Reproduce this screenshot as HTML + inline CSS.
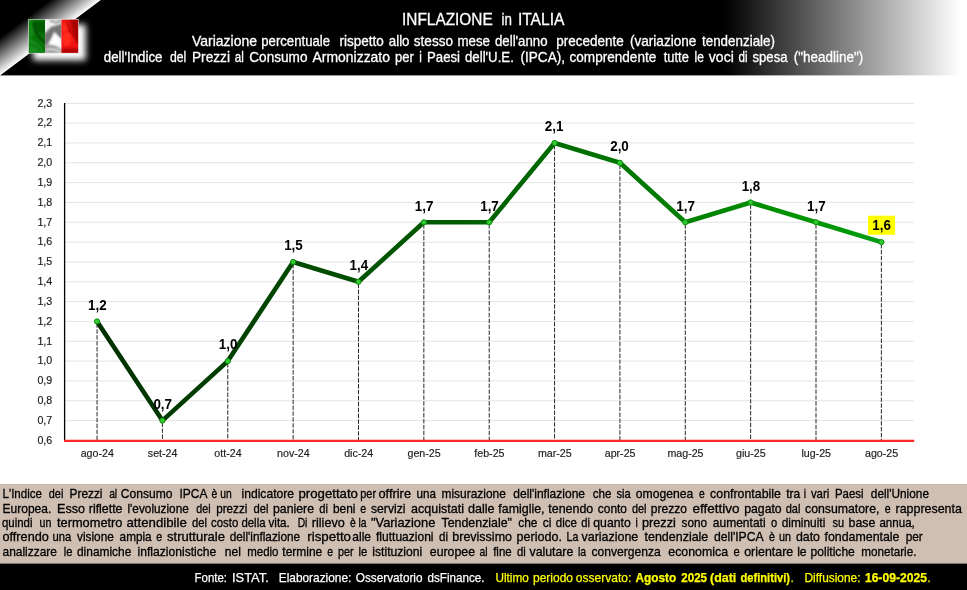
<!DOCTYPE html>
<html><head><meta charset="utf-8"><title>INFLAZIONE in ITALIA</title>
<style>html,body{margin:0;padding:0;background:#fff;}body{width:967px;height:590px;overflow:hidden;}svg{display:block;will-change:transform;}text{font-family:"Liberation Sans",sans-serif;}</style>
</head><body>
<svg width="967" height="590" viewBox="0 0 967 590">
<defs>
<linearGradient id="hg" gradientUnits="userSpaceOnUse" x1="0" y1="0" x2="967" y2="0"><stop offset="0" stop-color="#000"/><stop offset="0.75" stop-color="#000"/><stop offset="0.993" stop-color="#fff"/><stop offset="1" stop-color="#fff"/></linearGradient>
<linearGradient id="dg" gradientUnits="userSpaceOnUse" x1="50.4" y1="37.7" x2="32.13" y2="13.28"><stop offset="0" stop-color="#fff"/><stop offset="1" stop-color="#000"/></linearGradient>
<linearGradient id="lg" gradientUnits="userSpaceOnUse" x1="97" y1="0" x2="882" y2="0"><stop offset="0" stop-color="#003000"/><stop offset="0.54" stop-color="#006400"/><stop offset="0.9" stop-color="#009400"/><stop offset="1" stop-color="#009c10"/></linearGradient>
<filter id="glow" x="-50%" y="-50%" width="200%" height="200%"><feGaussianBlur stdDeviation="3"/></filter>
<filter id="b05" x="-30%" y="-60%" width="160%" height="220%"><feGaussianBlur stdDeviation="0.8"/></filter>
<filter id="b1" x="-30%" y="-30%" width="160%" height="160%"><feGaussianBlur stdDeviation="0.9"/></filter>
<linearGradient id="fgG" x1="0" y1="0" x2="1" y2="1"><stop offset="0" stop-color="#1a8a1a"/><stop offset="0.45" stop-color="#0a6a12"/><stop offset="0.7" stop-color="#138a1c"/><stop offset="1" stop-color="#0a6f10"/></linearGradient>
<linearGradient id="fgW" x1="0" y1="0" x2="1" y2="1"><stop offset="0" stop-color="#f4f4f4"/><stop offset="0.35" stop-color="#b9b9b9"/><stop offset="0.55" stop-color="#f2f2f2"/><stop offset="0.8" stop-color="#a8a8a8"/><stop offset="1" stop-color="#e8e8e8"/></linearGradient>
<linearGradient id="fgR" x1="0" y1="0" x2="1" y2="1"><stop offset="0" stop-color="#e01010"/><stop offset="0.4" stop-color="#ff2a20"/><stop offset="0.7" stop-color="#d40c0c"/><stop offset="1" stop-color="#f01a1a"/></linearGradient>
</defs>
<rect x="0" y="0" width="967" height="75.4" fill="url(#hg)"/>
<polygon points="0,0 100.8,0 0,75.6" fill="url(#dg)"/>
<rect x="33" y="24.5" width="52.8" height="35.8" fill="#fff" filter="url(#glow)"/>
<rect x="28.2" y="19.1" width="50.5" height="34.4" fill="#d8d8d8"/>
<clipPath id="cG"><rect x="28.9" y="19.8" width="16.1" height="33"/></clipPath>
<clipPath id="cW"><rect x="45" y="19.8" width="16.5" height="33"/></clipPath>
<clipPath id="cR"><rect x="61.5" y="19.8" width="16.6" height="33"/></clipPath>
<g clip-path="url(#cG)"><rect x="28" y="19" width="18" height="35" fill="#097509"/>
<g filter="url(#b1)">
<path d="M29,19 L33,19 L33.5,36 L29,37 Z" fill="#128c16"/>
<path d="M33.1,21.5 L45.5,21.5 L45.5,34 L38.6,32.3 Z" fill="#045a04"/>
<path d="M29,36.9 L37.7,44.2 L45.5,53 L29,53 Z" fill="#178f1d"/>
<path d="M32.7,22.5 Q35,31 37.7,35 T45.5,43" fill="none" stroke="#023f02" stroke-width="2"/>
<path d="M29,45 Q36,44 41,52.5" fill="none" stroke="#056005" stroke-width="1.2"/>
</g></g>
<g clip-path="url(#cW)"><rect x="44" y="19" width="18" height="35" fill="#f3f3f3"/>
<g filter="url(#b1)">
<path d="M62.5,23.5 L62.5,39.5 L54.4,32.8 L47.4,45 L44,45 L44,34 L51,27 Z" fill="#757575"/>
<path d="M44,44.2 L54.2,45.1 L62.5,49.7 L62.5,54 L44,54 Z" fill="#9c9c9c"/>
<path d="M50.5,44.6 L54.6,31.6 L57.9,37.8 L60.8,44.8 Z" fill="#ffffff"/>
<path d="M46,50 Q53,47.5 61,52" fill="none" stroke="#f4f4f4" stroke-width="1.3"/>
</g>
<g filter="url(#b05)"><path d="M50,21.5 Q52.5,20 54.5,22 T58,21.4 T61.3,23" fill="none" stroke="#858585" stroke-width="1.7"/></g>
</g>
<g clip-path="url(#cR)"><rect x="61" y="19" width="18" height="35" fill="#f01414"/>
<g filter="url(#b1)">
<path d="M69.7,19 L79,19 L79,45 L75.2,36.9 L71.6,26.8 Z" fill="#a60404"/>
<path d="M66.5,21.5 Q68,28 71.6,32.3 T78.6,44.2" fill="none" stroke="#a80606" stroke-width="1.8"/>
<ellipse cx="66.5" cy="39" rx="4.8" ry="7" fill="#ff2a1c"/>
<path d="M61.5,24 L66,22 L68,30 L62,33 Z" fill="#ff2a1c"/>
<path d="M61,49.6 Q70,47.8 79,48.6 L79,54 L61,54 Z" fill="#b20606"/>
</g></g>
<g fill="#fff" stroke="#fff" stroke-width="0.3">
<g font-size="16.4">
<text x="402.10" y="24.7" textLength="90.59" lengthAdjust="spacingAndGlyphs">INFLAZIONE</text>
<text x="501.50" y="24.7" textLength="10.40" lengthAdjust="spacingAndGlyphs">in</text>
<text x="517.90" y="24.7" textLength="46.51" lengthAdjust="spacingAndGlyphs">ITALIA</text>
</g>
<g font-size="14.1">
<text x="192.00" y="45.5" textLength="65.00" lengthAdjust="spacingAndGlyphs">Variazione</text>
<text x="261.30" y="45.5" textLength="68.70" lengthAdjust="spacingAndGlyphs">percentuale</text>
<text x="339.50" y="45.5" textLength="44.30" lengthAdjust="spacingAndGlyphs">rispetto</text>
<text x="388.80" y="45.5" textLength="20.70" lengthAdjust="spacingAndGlyphs">allo</text>
<text x="413.80" y="45.5" textLength="39.20" lengthAdjust="spacingAndGlyphs">stesso</text>
<text x="457.50" y="45.5" textLength="32.50" lengthAdjust="spacingAndGlyphs">mese</text>
<text x="495.00" y="45.5" textLength="52.50" lengthAdjust="spacingAndGlyphs">dell'anno</text>
<text x="556.30" y="45.5" textLength="67.50" lengthAdjust="spacingAndGlyphs">precedente</text>
<text x="630.00" y="45.5" textLength="66.30" lengthAdjust="spacingAndGlyphs">(variazione</text>
<text x="702.00" y="45.5" textLength="73.00" lengthAdjust="spacingAndGlyphs">tendenziale)</text>
<text x="103.80" y="62.3" textLength="58.70" lengthAdjust="spacingAndGlyphs">dell'Indice</text>
<text x="170.00" y="62.3" textLength="16.31" lengthAdjust="spacingAndGlyphs">del</text>
<text x="192.00" y="62.3" textLength="38.00" lengthAdjust="spacingAndGlyphs">Prezzi</text>
<text x="234.87" y="62.3" textLength="9.05" lengthAdjust="spacingAndGlyphs">al</text>
<text x="249.30" y="62.3" textLength="58.20" lengthAdjust="spacingAndGlyphs">Consumo</text>
<text x="312.50" y="62.3" textLength="77.50" lengthAdjust="spacingAndGlyphs">Armonizzato</text>
<text x="395.00" y="62.3" textLength="18.80" lengthAdjust="spacingAndGlyphs">per</text>
<text x="419.21" y="62.3" textLength="2.58" lengthAdjust="spacingAndGlyphs">i</text>
<text x="427.00" y="62.3" textLength="33.01" lengthAdjust="spacingAndGlyphs">Paesi</text>
<text x="465.00" y="62.3" textLength="48.81" lengthAdjust="spacingAndGlyphs">dell'U.E.</text>
<text x="520.50" y="62.3" textLength="44.50" lengthAdjust="spacingAndGlyphs">(IPCA),</text>
<text x="569.50" y="62.3" textLength="86.80" lengthAdjust="spacingAndGlyphs">comprendente</text>
<text x="663.80" y="62.3" textLength="25.00" lengthAdjust="spacingAndGlyphs">tutte</text>
<text x="694.50" y="62.3" textLength="9.30" lengthAdjust="spacingAndGlyphs">le</text>
<text x="708.80" y="62.3" textLength="25.00" lengthAdjust="spacingAndGlyphs">voci</text>
<text x="738.62" y="62.3" textLength="9.05" lengthAdjust="spacingAndGlyphs">di</text>
<text x="752.50" y="62.3" textLength="34.99" lengthAdjust="spacingAndGlyphs">spesa</text>
<text x="793.80" y="62.3" textLength="69.50" lengthAdjust="spacingAndGlyphs">(&quot;headline&quot;)</text>
</g>
</g>
<g stroke="#e4e4e4" stroke-width="1">
<line x1="65" y1="103.30" x2="914" y2="103.30"/>
<line x1="65" y1="123.13" x2="914" y2="123.13"/>
<line x1="65" y1="142.96" x2="914" y2="142.96"/>
<line x1="65" y1="162.79" x2="914" y2="162.79"/>
<line x1="65" y1="182.62" x2="914" y2="182.62"/>
<line x1="65" y1="202.45" x2="914" y2="202.45"/>
<line x1="65" y1="222.28" x2="914" y2="222.28"/>
<line x1="65" y1="242.11" x2="914" y2="242.11"/>
<line x1="65" y1="261.94" x2="914" y2="261.94"/>
<line x1="65" y1="281.77" x2="914" y2="281.77"/>
<line x1="65" y1="301.60" x2="914" y2="301.60"/>
<line x1="65" y1="321.43" x2="914" y2="321.43"/>
<line x1="65" y1="341.26" x2="914" y2="341.26"/>
<line x1="65" y1="361.09" x2="914" y2="361.09"/>
<line x1="65" y1="380.92" x2="914" y2="380.92"/>
<line x1="65" y1="400.75" x2="914" y2="400.75"/>
<line x1="65" y1="420.58" x2="914" y2="420.58"/>
</g>
<g fill="#1e1e1e" font-size="10.67" stroke="#1e1e1e" stroke-width="0.18">
<text x="37.4" y="106.60">2,3</text>
<text x="37.4" y="126.43">2,2</text>
<text x="37.4" y="146.26">2,1</text>
<text x="37.4" y="166.09">2,0</text>
<text x="37.4" y="185.92">1,9</text>
<text x="37.4" y="205.75">1,8</text>
<text x="37.4" y="225.58">1,7</text>
<text x="37.4" y="245.41">1,6</text>
<text x="37.4" y="265.24">1,5</text>
<text x="37.4" y="285.07">1,4</text>
<text x="37.4" y="304.90">1,3</text>
<text x="37.4" y="324.73">1,2</text>
<text x="37.4" y="344.56">1,1</text>
<text x="37.4" y="364.39">1,0</text>
<text x="37.4" y="384.22">0,9</text>
<text x="37.4" y="404.05">0,8</text>
<text x="37.4" y="423.88">0,7</text>
<text x="37.4" y="443.71">0,6</text>
</g>
<g stroke="#262626" stroke-width="1" stroke-dasharray="4.4 1.5">
<line x1="97.05" y1="323.43" x2="97.05" y2="440.41"/>
<line x1="162.41" y1="422.58" x2="162.41" y2="440.41"/>
<line x1="227.77" y1="363.09" x2="227.77" y2="440.41"/>
<line x1="293.13" y1="263.94" x2="293.13" y2="440.41"/>
<line x1="358.49" y1="283.77" x2="358.49" y2="440.41"/>
<line x1="423.85" y1="224.28" x2="423.85" y2="440.41"/>
<line x1="489.21" y1="224.28" x2="489.21" y2="440.41"/>
<line x1="554.57" y1="144.96" x2="554.57" y2="440.41"/>
<line x1="619.93" y1="164.79" x2="619.93" y2="440.41"/>
<line x1="685.29" y1="224.28" x2="685.29" y2="440.41"/>
<line x1="750.65" y1="204.45" x2="750.65" y2="440.41"/>
<line x1="816.01" y1="224.28" x2="816.01" y2="440.41"/>
<line x1="881.37" y1="244.11" x2="881.37" y2="440.41"/>
</g>
<line x1="64.6" y1="103" x2="64.6" y2="441.41" stroke="#000" stroke-width="1.3"/>
<line x1="64" y1="440.85" x2="914.2" y2="440.85" stroke="#ff2626" stroke-width="2.1"/>
<polyline points="97.05,321.43 162.41,420.58 227.77,361.09 293.13,261.94 358.49,281.77 423.85,222.28 489.21,222.28 554.57,142.96 619.93,162.79 685.29,222.28 750.65,202.45 816.01,222.28 881.37,242.11" fill="none" stroke="url(#lg)" stroke-width="4.6" stroke-linejoin="round" stroke-linecap="round"/>
<g fill="#30cc30" stroke="#0f8c0f" stroke-width="1">
<circle cx="97.05" cy="321.43" r="2.6"/>
<circle cx="162.41" cy="420.58" r="2.6"/>
<circle cx="227.77" cy="361.09" r="2.6"/>
<circle cx="293.13" cy="261.94" r="2.6"/>
<circle cx="358.49" cy="281.77" r="2.6"/>
<circle cx="423.85" cy="222.28" r="2.6"/>
<circle cx="489.21" cy="222.28" r="2.6"/>
<circle cx="554.57" cy="142.96" r="2.6"/>
<circle cx="619.93" cy="162.79" r="2.6"/>
<circle cx="685.29" cy="222.28" r="2.6"/>
<circle cx="750.65" cy="202.45" r="2.6"/>
<circle cx="816.01" cy="222.28" r="2.6"/>
<circle cx="881.37" cy="242.11" r="2.6"/>
</g>
<rect x="868" y="215.7" width="27.1" height="19.1" fill="#ffff00"/>
<g fill="#000" font-size="14" font-weight="bold" text-anchor="middle">
<text x="97.35" y="309.73" textLength="18.6" lengthAdjust="spacingAndGlyphs">1,2</text>
<text x="162.71" y="408.88" textLength="18.6" lengthAdjust="spacingAndGlyphs">0,7</text>
<text x="228.07" y="349.39" textLength="18.6" lengthAdjust="spacingAndGlyphs">1,0</text>
<text x="293.43" y="250.24" textLength="18.6" lengthAdjust="spacingAndGlyphs">1,5</text>
<text x="358.79" y="270.07" textLength="18.6" lengthAdjust="spacingAndGlyphs">1,4</text>
<text x="424.15" y="210.58" textLength="18.6" lengthAdjust="spacingAndGlyphs">1,7</text>
<text x="489.51" y="210.58" textLength="18.6" lengthAdjust="spacingAndGlyphs">1,7</text>
<text x="554.17" y="131.26" textLength="18.6" lengthAdjust="spacingAndGlyphs">2,1</text>
<text x="619.53" y="151.09" textLength="18.6" lengthAdjust="spacingAndGlyphs">2,0</text>
<text x="685.59" y="210.58" textLength="18.6" lengthAdjust="spacingAndGlyphs">1,7</text>
<text x="750.95" y="190.75" textLength="18.6" lengthAdjust="spacingAndGlyphs">1,8</text>
<text x="816.31" y="210.58" textLength="18.6" lengthAdjust="spacingAndGlyphs">1,7</text>
<text x="881.67" y="230.41" textLength="18.6" lengthAdjust="spacingAndGlyphs">1,6</text>
</g>
<g fill="#1e1e1e" font-size="10.67" text-anchor="middle" stroke="#1e1e1e" stroke-width="0.18">
<text x="97.25" y="456.6">ago-24</text>
<text x="162.61" y="456.6">set-24</text>
<text x="227.97" y="456.6">ott-24</text>
<text x="293.33" y="456.6">nov-24</text>
<text x="358.69" y="456.6">dic-24</text>
<text x="424.05" y="456.6">gen-25</text>
<text x="489.41" y="456.6">feb-25</text>
<text x="554.77" y="456.6">mar-25</text>
<text x="620.13" y="456.6">apr-25</text>
<text x="685.49" y="456.6">mag-25</text>
<text x="750.85" y="456.6">giu-25</text>
<text x="816.21" y="456.6">lug-25</text>
<text x="881.57" y="456.6">ago-25</text>
</g>
<rect x="0" y="484" width="967" height="80" fill="#cfbeb2"/>
<rect x="0" y="484" width="967" height="1" fill="#c9b3a8"/>
<rect x="0" y="563.6" width="967" height="26.4" fill="#000"/>
<g fill="#000" font-size="12.7" stroke="#000" stroke-width="0.3">
<text x="2.50" y="498.2" textLength="39.49" lengthAdjust="spacingAndGlyphs">L'Indice</text>
<text x="48.80" y="498.2" textLength="14.51" lengthAdjust="spacingAndGlyphs">dei</text>
<text x="69.50" y="498.2" textLength="33.00" lengthAdjust="spacingAndGlyphs">Prezzi</text>
<text x="109.14" y="498.2" textLength="8.03" lengthAdjust="spacingAndGlyphs">al</text>
<text x="120.80" y="498.2" textLength="51.70" lengthAdjust="spacingAndGlyphs">Consumo</text>
<text x="179.50" y="498.2" textLength="28.00" lengthAdjust="spacingAndGlyphs">IPCA</text>
<text x="211.53" y="498.2" textLength="5.74" lengthAdjust="spacingAndGlyphs">è</text>
<text x="220.16" y="498.2" textLength="11.48" lengthAdjust="spacingAndGlyphs">un</text>
<text x="241.50" y="498.2" textLength="52.50" lengthAdjust="spacingAndGlyphs">indicatore</text>
<text x="298.53" y="498.2" textLength="59.45" lengthAdjust="spacingAndGlyphs">progettato</text>
<text x="360.30" y="498.2" textLength="15.70" lengthAdjust="spacingAndGlyphs">per</text>
<text x="378.50" y="498.2" textLength="32.50" lengthAdjust="spacingAndGlyphs">offrire</text>
<text x="416.50" y="498.2" textLength="19.49" lengthAdjust="spacingAndGlyphs">una</text>
<text x="441.50" y="498.2" textLength="64.30" lengthAdjust="spacingAndGlyphs">misurazione</text>
<text x="513.30" y="498.2" textLength="71.70" lengthAdjust="spacingAndGlyphs">dell'inflazione</text>
<text x="592.80" y="498.2" textLength="18.70" lengthAdjust="spacingAndGlyphs">che</text>
<text x="616.50" y="498.2" textLength="14.29" lengthAdjust="spacingAndGlyphs">sia</text>
<text x="635.80" y="498.2" textLength="57.49" lengthAdjust="spacingAndGlyphs">omogenea</text>
<text x="698.88" y="498.2" textLength="5.74" lengthAdjust="spacingAndGlyphs">e</text>
<text x="710.10" y="498.2" textLength="70.80" lengthAdjust="spacingAndGlyphs">confrontabile</text>
<text x="786.29" y="498.2" textLength="14.00" lengthAdjust="spacingAndGlyphs">tra</text>
<text x="803.70" y="498.2" textLength="2.29" lengthAdjust="spacingAndGlyphs">i</text>
<text x="810.92" y="498.2" textLength="18.37" lengthAdjust="spacingAndGlyphs">vari</text>
<text x="834.99" y="498.2" textLength="28.52" lengthAdjust="spacingAndGlyphs">Paesi</text>
<text x="870.80" y="498.2" textLength="58.19" lengthAdjust="spacingAndGlyphs">dell'Unione</text>
<text x="2.50" y="512.5" textLength="48.80" lengthAdjust="spacingAndGlyphs">Europea.</text>
<text x="57.00" y="512.5" textLength="28.00" lengthAdjust="spacingAndGlyphs">Esso</text>
<text x="88.80" y="512.5" textLength="33.70" lengthAdjust="spacingAndGlyphs">riflette</text>
<text x="127.50" y="512.5" textLength="61.30" lengthAdjust="spacingAndGlyphs">l'evoluzione</text>
<text x="196.30" y="512.5" textLength="14.21" lengthAdjust="spacingAndGlyphs">dei</text>
<text x="216.23" y="512.5" textLength="31.13" lengthAdjust="spacingAndGlyphs">prezzi</text>
<text x="253.50" y="512.5" textLength="15.01" lengthAdjust="spacingAndGlyphs">del</text>
<text x="273.00" y="512.5" textLength="41.00" lengthAdjust="spacingAndGlyphs">paniere</text>
<text x="319.30" y="512.5" textLength="8.70" lengthAdjust="spacingAndGlyphs">di</text>
<text x="333.00" y="512.5" textLength="22.50" lengthAdjust="spacingAndGlyphs">beni</text>
<text x="360.21" y="512.5" textLength="5.88" lengthAdjust="spacingAndGlyphs">e</text>
<text x="371.00" y="512.5" textLength="34.49" lengthAdjust="spacingAndGlyphs">servizi</text>
<text x="411.00" y="512.5" textLength="53.00" lengthAdjust="spacingAndGlyphs">acquistati</text>
<text x="468.00" y="512.5" textLength="26.50" lengthAdjust="spacingAndGlyphs">dalle</text>
<text x="498.30" y="512.5" textLength="46.20" lengthAdjust="spacingAndGlyphs">famiglie,</text>
<text x="548.30" y="512.5" textLength="45.00" lengthAdjust="spacingAndGlyphs">tenendo</text>
<text x="597.80" y="512.5" textLength="29.20" lengthAdjust="spacingAndGlyphs">conto</text>
<text x="632.00" y="512.5" textLength="14.51" lengthAdjust="spacingAndGlyphs">del</text>
<text x="650.80" y="512.5" textLength="36.21" lengthAdjust="spacingAndGlyphs">prezzo</text>
<text x="692.51" y="512.5" textLength="47.08" lengthAdjust="spacingAndGlyphs">effettivo</text>
<text x="744.20" y="512.5" textLength="37.50" lengthAdjust="spacingAndGlyphs">pagato</text>
<text x="785.70" y="512.5" textLength="14.71" lengthAdjust="spacingAndGlyphs">dal</text>
<text x="805.00" y="512.5" textLength="74.40" lengthAdjust="spacingAndGlyphs">consumatore,</text>
<text x="884.80" y="512.5" textLength="5.90" lengthAdjust="spacingAndGlyphs">e</text>
<text x="895.50" y="512.5" textLength="66.39" lengthAdjust="spacingAndGlyphs">rappresenta</text>
<text x="2.01" y="526.8" textLength="30.48" lengthAdjust="spacingAndGlyphs">quindi</text>
<text x="39.50" y="526.8" textLength="11.80" lengthAdjust="spacingAndGlyphs">un</text>
<text x="57.00" y="526.8" textLength="65.50" lengthAdjust="spacingAndGlyphs">termometro</text>
<text x="126.51" y="526.8" textLength="60.29" lengthAdjust="spacingAndGlyphs">attendibile</text>
<text x="192.00" y="526.8" textLength="15.01" lengthAdjust="spacingAndGlyphs">del</text>
<text x="211.00" y="526.8" textLength="27.30" lengthAdjust="spacingAndGlyphs">costo</text>
<text x="241.43" y="526.8" textLength="24.13" lengthAdjust="spacingAndGlyphs">della</text>
<text x="268.50" y="526.8" textLength="21.30" lengthAdjust="spacingAndGlyphs">vita.</text>
<text x="297.67" y="526.8" textLength="9.76" lengthAdjust="spacingAndGlyphs">Di</text>
<text x="311.80" y="526.8" textLength="33.00" lengthAdjust="spacingAndGlyphs">rilievo</text>
<text x="350.03" y="526.8" textLength="5.75" lengthAdjust="spacingAndGlyphs">è</text>
<text x="358.47" y="526.8" textLength="8.05" lengthAdjust="spacingAndGlyphs">la</text>
<text x="371.00" y="526.8" textLength="64.30" lengthAdjust="spacingAndGlyphs">&quot;Variazione</text>
<text x="441.50" y="526.8" textLength="70.51" lengthAdjust="spacingAndGlyphs">Tendenziale&quot;</text>
<text x="518.30" y="526.8" textLength="19.20" lengthAdjust="spacingAndGlyphs">che</text>
<text x="542.66" y="526.8" textLength="8.68" lengthAdjust="spacingAndGlyphs">ci</text>
<text x="555.80" y="526.8" textLength="21.21" lengthAdjust="spacingAndGlyphs">dice</text>
<text x="581.30" y="526.8" textLength="8.70" lengthAdjust="spacingAndGlyphs">di</text>
<text x="593.30" y="526.8" textLength="37.50" lengthAdjust="spacingAndGlyphs">quanto</text>
<text x="635.50" y="526.8" textLength="2.30" lengthAdjust="spacingAndGlyphs">i</text>
<text x="642.00" y="526.8" textLength="33.79" lengthAdjust="spacingAndGlyphs">prezzi</text>
<text x="681.50" y="526.8" textLength="25.51" lengthAdjust="spacingAndGlyphs">sono</text>
<text x="712.80" y="526.8" textLength="52.80" lengthAdjust="spacingAndGlyphs">aumentati</text>
<text x="770.90" y="526.8" textLength="6.20" lengthAdjust="spacingAndGlyphs">o</text>
<text x="781.70" y="526.8" textLength="43.60" lengthAdjust="spacingAndGlyphs">diminuiti</text>
<text x="832.50" y="526.8" textLength="11.60" lengthAdjust="spacingAndGlyphs">su</text>
<text x="848.60" y="526.8" textLength="26.81" lengthAdjust="spacingAndGlyphs">base</text>
<text x="879.40" y="526.8" textLength="35.40" lengthAdjust="spacingAndGlyphs">annua,</text>
<text x="2.50" y="541.2" textLength="46.30" lengthAdjust="spacingAndGlyphs">offrendo</text>
<text x="52.50" y="541.2" textLength="18.79" lengthAdjust="spacingAndGlyphs">una</text>
<text x="77.00" y="541.2" textLength="36.80" lengthAdjust="spacingAndGlyphs">visione</text>
<text x="119.62" y="541.2" textLength="32.04" lengthAdjust="spacingAndGlyphs">ampia</text>
<text x="156.19" y="541.2" textLength="5.92" lengthAdjust="spacingAndGlyphs">e</text>
<text x="167.00" y="541.2" textLength="58.00" lengthAdjust="spacingAndGlyphs">strutturale</text>
<text x="229.76" y="541.2" textLength="70.27" lengthAdjust="spacingAndGlyphs">dell'inflazione</text>
<text x="307.30" y="541.2" textLength="43.70" lengthAdjust="spacingAndGlyphs">rispetto</text>
<text x="352.30" y="541.2" textLength="18.70" lengthAdjust="spacingAndGlyphs">alle</text>
<text x="376.00" y="541.2" textLength="57.50" lengthAdjust="spacingAndGlyphs">fluttuazioni</text>
<text x="439.00" y="541.2" textLength="9.00" lengthAdjust="spacingAndGlyphs">di</text>
<text x="452.30" y="541.2" textLength="59.70" lengthAdjust="spacingAndGlyphs">brevissimo</text>
<text x="516.50" y="541.2" textLength="45.50" lengthAdjust="spacingAndGlyphs">periodo.</text>
<text x="566.47" y="541.2" textLength="11.85" lengthAdjust="spacingAndGlyphs">La</text>
<text x="581.50" y="541.2" textLength="56.80" lengthAdjust="spacingAndGlyphs">variazione</text>
<text x="644.50" y="541.2" textLength="63.80" lengthAdjust="spacingAndGlyphs">tendenziale</text>
<text x="713.90" y="541.2" textLength="49.79" lengthAdjust="spacingAndGlyphs">dell'IPCA</text>
<text x="769.09" y="541.2" textLength="5.92" lengthAdjust="spacingAndGlyphs">è</text>
<text x="779.00" y="541.2" textLength="12.00" lengthAdjust="spacingAndGlyphs">un</text>
<text x="795.90" y="541.2" textLength="24.10" lengthAdjust="spacingAndGlyphs">dato</text>
<text x="824.50" y="541.2" textLength="75.00" lengthAdjust="spacingAndGlyphs">fondamentale</text>
<text x="905.70" y="541.2" textLength="17.10" lengthAdjust="spacingAndGlyphs">per</text>
<text x="2.50" y="555.6" textLength="54.50" lengthAdjust="spacingAndGlyphs">analizzare</text>
<text x="63.80" y="555.6" textLength="8.70" lengthAdjust="spacingAndGlyphs">le</text>
<text x="77.00" y="555.6" textLength="54.30" lengthAdjust="spacingAndGlyphs">dinamiche</text>
<text x="137.50" y="555.6" textLength="78.81" lengthAdjust="spacingAndGlyphs">inflazionistiche</text>
<text x="224.85" y="555.6" textLength="16.11" lengthAdjust="spacingAndGlyphs">nel</text>
<text x="247.28" y="555.6" textLength="31.24" lengthAdjust="spacingAndGlyphs">medio</text>
<text x="282.30" y="555.6" textLength="39.99" lengthAdjust="spacingAndGlyphs">termine</text>
<text x="327.26" y="555.6" textLength="5.77" lengthAdjust="spacingAndGlyphs">e</text>
<text x="338.00" y="555.6" textLength="15.50" lengthAdjust="spacingAndGlyphs">per</text>
<text x="358.50" y="555.6" textLength="8.80" lengthAdjust="spacingAndGlyphs">le</text>
<text x="372.30" y="555.6" textLength="50.00" lengthAdjust="spacingAndGlyphs">istituzioni</text>
<text x="429.80" y="555.6" textLength="45.20" lengthAdjust="spacingAndGlyphs">europee</text>
<text x="479.46" y="555.6" textLength="8.08" lengthAdjust="spacingAndGlyphs">al</text>
<text x="493.16" y="555.6" textLength="18.49" lengthAdjust="spacingAndGlyphs">fine</text>
<text x="517.00" y="555.6" textLength="8.80" lengthAdjust="spacingAndGlyphs">di</text>
<text x="529.50" y="555.6" textLength="43.80" lengthAdjust="spacingAndGlyphs">valutare</text>
<text x="578.01" y="555.6" textLength="8.08" lengthAdjust="spacingAndGlyphs">la</text>
<text x="591.50" y="555.6" textLength="69.29" lengthAdjust="spacingAndGlyphs">convergenza</text>
<text x="668.30" y="555.6" textLength="59.79" lengthAdjust="spacingAndGlyphs">economica</text>
<text x="733.40" y="555.6" textLength="6.20" lengthAdjust="spacingAndGlyphs">e</text>
<text x="744.20" y="555.6" textLength="49.00" lengthAdjust="spacingAndGlyphs">orientare</text>
<text x="797.20" y="555.6" textLength="9.40" lengthAdjust="spacingAndGlyphs">le</text>
<text x="810.60" y="555.6" textLength="44.20" lengthAdjust="spacingAndGlyphs">politiche</text>
<text x="861.20" y="555.6" textLength="55.20" lengthAdjust="spacingAndGlyphs">monetarie.</text>
</g>
<g font-size="12.7" fill="#fff" stroke="#fff" stroke-width="0.25">
<text x="194.50" y="582.1" textLength="32.50" lengthAdjust="spacingAndGlyphs">Fonte:</text>
<text x="232.00" y="582.1" textLength="36.80" lengthAdjust="spacingAndGlyphs">ISTAT.</text>
<text x="278.80" y="582.1" textLength="72.50" lengthAdjust="spacingAndGlyphs">Elaborazione:</text>
<text x="355.80" y="582.1" textLength="66.71" lengthAdjust="spacingAndGlyphs">Osservatorio</text>
<text x="427.50" y="582.1" textLength="57.00" lengthAdjust="spacingAndGlyphs">dsFinance.</text>
</g><g font-size="12.7" fill="#ffff00" stroke="#ffff00" stroke-width="0.25">
<text x="495.50" y="582.1" textLength="33.29" lengthAdjust="spacingAndGlyphs">Ultimo</text>
<text x="533.00" y="582.1" textLength="40.00" lengthAdjust="spacingAndGlyphs">periodo</text>
<text x="575.80" y="582.1" textLength="55.50" lengthAdjust="spacingAndGlyphs">osservato:</text>
<text x="790.83" y="582.1" textLength="2.84" lengthAdjust="spacingAndGlyphs">.</text>
<text x="804.50" y="582.1" textLength="55.99" lengthAdjust="spacingAndGlyphs">Diffusione:</text>
<text x="927.58" y="582.1" textLength="3.03" lengthAdjust="spacingAndGlyphs">.</text>
<g font-weight="bold">
<text x="635.50" y="582.1" textLength="40.80" lengthAdjust="spacingAndGlyphs">Agosto</text>
<text x="681.30" y="582.1" textLength="25.70" lengthAdjust="spacingAndGlyphs">2025</text>
<text x="710.00" y="582.1" textLength="26.30" lengthAdjust="spacingAndGlyphs">(dati</text>
<text x="740.50" y="582.1" textLength="49.50" lengthAdjust="spacingAndGlyphs">definitivi)</text>
<text x="864.90" y="582.1" textLength="62.00" lengthAdjust="spacingAndGlyphs">16-09-2025</text>
</g></g>
</svg>
</body></html>
